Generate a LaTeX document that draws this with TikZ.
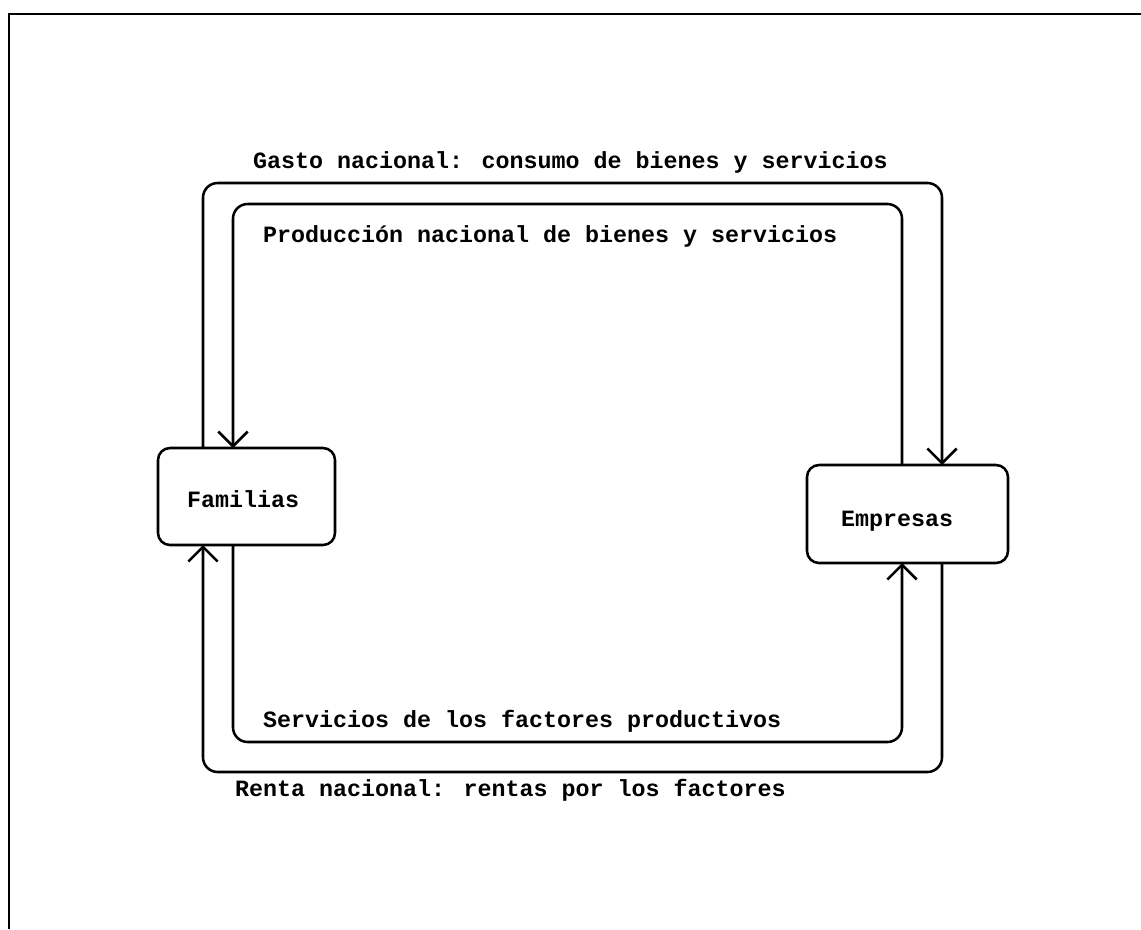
\documentclass[tikz,border=0pt]{standalone}
\usepackage{fontspec}
\setmainfont{Liberation Mono}
\usetikzlibrary{arrows.meta}
\begin{document}
\begin{tikzpicture}[x=0.75pt,y=-0.75pt,
  every node/.style={inner sep=0pt, outer sep=0pt},
  lbl/.style={anchor=base west, font=\fontsize{17.5}{20}\selectfont\bfseries},
  agent/.style={draw, line width=1.9pt, rounded corners=9pt, fill=white},
  flow/.style={draw, line width=1.9pt, rounded corners=11pt, -{Straight Barb[length=11pt,width=22pt,line width=1.9pt]}},
  frame/.style={draw, line width=2.2pt}]
\useasboundingbox (0,0) rectangle (1141,929);
% frame (only top and left edges visible)
\coordinate (fA) at (9,929);
\coordinate (fB) at (9,14);
\coordinate (fC) at (1141,14);
\draw[frame] (fA) -- (fB) -- (fC);
% agents
\node[agent, minimum width=177*0.75pt, minimum height=97*0.75pt] (fam) at (246.5,496.5) {};
\node[agent, minimum width=201*0.75pt, minimum height=98*0.75pt] (emp) at (907.5,514) {};
\node[lbl] (famL) at (187,507) {Familias};
\node[lbl] (empL) at (841,526) {Empresas};
% loop corners
\coordinate (oTL) at (203,183);
\coordinate (oTR) at (942,183);
\coordinate (oBL) at (203,772);
\coordinate (oBR) at (942,772);
\coordinate (iTL) at (233,204);
\coordinate (iTR) at (902,204);
\coordinate (iBL) at (233,742);
\coordinate (iBR) at (902,742);
% flows
\draw[flow] (fam.north -| oTL) -- (oTL) -- (oTR) -- (emp.north -| oTR);
\draw[flow] (emp.south -| oBR) -- (oBR) -- (oBL) -- (fam.south -| oBL);
\draw[flow] (emp.north -| iTR) -- (iTR) -- (iTL) -- (fam.north -| iTL);
\draw[flow] (fam.south -| iBL) -- (iBL) -- (iBR) -- (emp.south -| iBR);
% labels
\node[lbl] (gasto) at (253,168) {Gasto nacional: consumo de bienes y servicios};
\node[lbl] (prod) at (263,242) {Producción nacional de bienes y servicios};
\node[lbl] (serv) at (263,727) {Servicios de los factores productivos};
\node[lbl] (renta) at (235,796) {Renta nacional: rentas por los factores};
\end{tikzpicture}
\end{document}
